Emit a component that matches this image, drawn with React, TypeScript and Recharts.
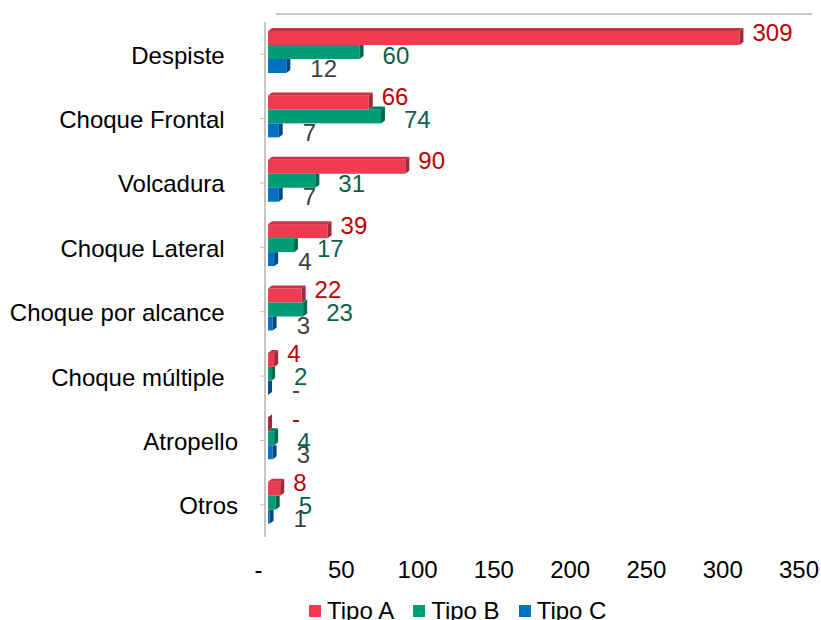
import { Bar, BarChart, LabelList, Legend, XAxis, YAxis } from "recharts";

// tipos de accidente (the trailing nbsp are in the source labels)
const categories = [
  "Despiste\u00a0\u00a0",
  "Choque Frontal\u00a0\u00a0",
  "Volcadura\u00a0\u00a0",
  "Choque Lateral\u00a0\u00a0",
  "Choque por alcance\u00a0\u00a0",
  "Choque múltiple\u00a0\u00a0",
  "Atropello",
  "Otros",
];
const tipoA = [309, 66, 90, 39, 22, 4, 0, 8];
const tipoB = [60, 74, 31, 17, 23, 2, 4, 5];
const tipoC = [12, 7, 7, 4, 3, 0, 3, 1];
const xTicks = [0, 50, 100, 150, 200, 250, 300, 350];
const xDomain: [number, number] = [-2, 350];

const data = categories.map((name, i) => ({
  name,
  a: tipoA[i],
  b: tipoB[i],
  c: tipoC[i],
}));

const FONT = '"Liberation Sans", Arial, sans-serif';
const FS = 24;
const DX = 4;
const DY = 3;
const LIFT = 2;

function make3DBar(front: string, top: string, side: string, key: string, aboveKey?: string) {
  return (props: any) => {
    const { x, width, height, payload, background } = props;
    const y = props.y - LIFT;
    const w = Math.max(width || 0, 0);
    const h = height;
    const value = payload[key] || 0;
    let ppu = 1.5256;
    if (value > 0 && w > 0) ppu = w / value;
    else if (background && background.width) ppu = background.width / (xDomain[1] - xDomain[0]);
    const aboveW = aboveKey ? (payload[aboveKey] || 0) * ppu : -1;
    const covered = aboveKey !== undefined && aboveW >= w;
    const xa = aboveKey ? x + Math.max(aboveW, 0) : x;
    return (
      <g>
        <rect x={x} y={y} width={w} height={h} fill={front} />
        {!covered && (
          <polygon
            points={`${xa},${y} ${xa + DX},${y - DY} ${x + w + DX},${y - DY} ${x + w},${y}`}
            fill={top}
          />
        )}
        {covered ? (
          <polygon
            points={`${x + w},${y} ${x + w + DX},${y} ${x + w + DX},${y + h - DY} ${x + w},${y + h}`}
            fill={side}
          />
        ) : (
          <polygon
            points={`${x + w},${y} ${x + w + DX},${y - DY} ${x + w + DX},${y + h - DY} ${x + w},${y + h}`}
            fill={side}
          />
        )}
      </g>
    );
  };
}

function makeLabel(color: string, gap: number, dy: number) {
  return (props: any) => {
    const { x, y, width, height, value } = props;
    const zero = !value;
    return (
      <text
        x={x + (width || 0) + DX + (zero ? 20 : gap)}
        y={y - LIFT + height / 2 + dy}
        fill={color}
        fontSize={FS}
        fontFamily={FONT}
        dominantBaseline="central"
      >
        {zero ? "-" : value}
      </text>
    );
  };
}

const XTick = (props: any) => {
  const { x, y, payload } = props;
  const v = payload.value;
  return (
    <text
      x={v === 0 ? x - 9.5 : x - 3}
      y={y + 33}
      textAnchor="middle"
      fill="#000"
      fontSize={FS}
      fontFamily={FONT}
    >
      {v === 0 ? "-" : v}
    </text>
  );
};

const renderLegend = (props: any) => (
  <div
    style={{
      display: "flex",
      alignItems: "center",
      fontFamily: FONT,
      fontSize: FS,
      lineHeight: "24px",
      color: "#000",
    }}
  >
    {(props.payload || []).map((p: any) => (
      <div key={p.value} style={{ display: "flex", alignItems: "center", marginRight: 19 }}>
        <span style={{ display: "inline-block", width: 12, height: 12, background: p.color, marginRight: 6 }} />
        <span>{p.value}</span>
      </div>
    ))}
  </div>
);

export default function App() {
  return (
    <div style={{ position: "absolute", left: 0, top: 0, width: 821, height: 620, background: "#fff" }}>
      <div
        style={{ position: "absolute", left: 276, top: 13, width: 536, height: 2, background: "#c8c8c8" }}
      />
      <BarChart
        width={821}
        height={620}
        data={data}
        layout="vertical"
        barSize={14}
        barGap={0}
        margin={{ top: 22, right: 19, bottom: 0, left: 0 }}
      >
        <XAxis
          type="number"
          domain={xDomain}
          ticks={xTicks}
          interval={0}
          axisLine={false}
          tickLine={false}
          tick={<XTick />}
          height={58}
        />
        <YAxis
          type="category"
          dataKey="name"
          width={265}
          tickSize={5}
          tickMargin={22}
          axisLine={{ stroke: "#c6c6c6", strokeWidth: 2 }}
          tickLine={{ stroke: "#bfbfbf" }}
          tick={{ fill: "#000", fontSize: FS, fontFamily: FONT, dy: 1 }}
          interval={0}
        />
        <Legend
          verticalAlign="bottom"
          height={25}
          content={renderLegend}
          wrapperStyle={{ left: 309, top: 599, width: "auto", height: 25 }}
        />
        <Bar dataKey="a" name="Tipo A" fill="#ee3b50" isAnimationActive={false} shape={make3DBar("#ee3b50", "#c83142", "#a3283a", "a")}>
          <LabelList dataKey="a" content={makeLabel("#c00000", 9, -6)} />
        </Bar>
        <Bar dataKey="b" name="Tipo B" fill="#009b77" isAnimationActive={false} shape={make3DBar("#009b77", "#007d60", "#006a51", "b", "a")}>
          <LabelList dataKey="b" content={makeLabel("#0b5e4a", 19, 3)} />
        </Bar>
        <Bar dataKey="c" name="Tipo C" fill="#0070c0" isAnimationActive={false} shape={make3DBar("#0070c0", "#005a9c", "#004a82", "c", "b")}>
          <LabelList dataKey="c" content={makeLabel("#404040", 20, 2)} />
        </Bar>
      </BarChart>
    </div>
  );
}
